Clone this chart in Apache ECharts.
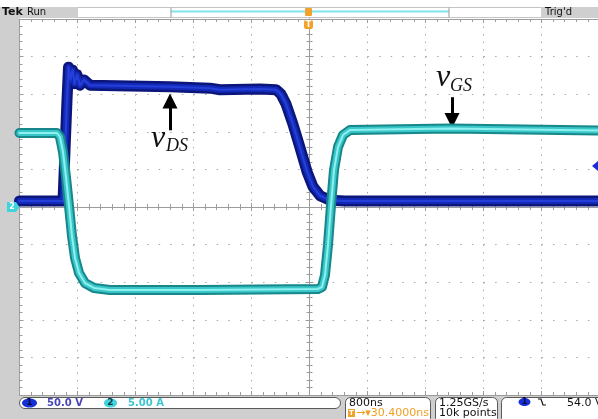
<!DOCTYPE html>
<html>
<head>
<meta charset="utf-8">
<script src="https://cdn.jsdelivr.net/npm/echarts@6/dist/echarts.min.js"></script>
<style>
  html, body { margin: 0; padding: 0; background: #ffffff; }
  #chart { width: 598px; height: 419px; }
</style>
</head>
<body>
<div id="chart"></div>
<script>
// Horizontal: 800 ns/div, 10 divisions, trigger at centre
const timeMin = -4000, timeMax = 4000, timeStep = 800;
// Channel 1 (v_DS): 50 V/div, ground at centre
const ch1Min = -250, ch1Max = 250, ch1Step = 50;
// Channel 2 (v_GS probe channel): 5 A/div, ground at centre
const ch2Min = -25, ch2Max = 25, ch2Step = 5;

// Channel 1 trace: drain-source voltage
const vdsTime  = [-4000, -3400, -3372, -3345, -3324, -3297, -3269, -3241, -3207, -3166, -3110, -3028,
                  -2476, -1924, -1372, -1234, -683, -462, -393, -324, -228, -131, -34, 48, 145, 283, 490, 4000];
const vdsVolts = [8, 8, 76, 142, 186, 169, 182, 164, 176, 162, 169, 162,
                  161, 160, 158, 156, 157, 156, 150, 137, 110, 79, 47, 27, 15, 9, 8, 8];

// Channel 2 trace: gate-source drive
const vgsTime = [-4000, -3524, -3483, -3441, -3400, -3359, -3317, -3276, -3234, -3179, -3097, -2972, -2752,
                 -1510, 117, 172, 214, 255, 297, 338, 393, 462, 559, 1938, 4000];
const vgsAmps = [9.84, 9.84, 9.84, 9.31, 7.31, 3.99, 0.13, -3.86, -6.78, -8.78, -10.11, -10.77, -11.04,
                 -11.04, -10.9, -10.64, -9.04, -5.05, 0.27, 4.92, 7.98, 9.57, 10.24, 10.44, 10.17];

// Annotation arrows: time, shaft start, shaft end, tip level
const vdsArrow = { t: -1924, from: 102, shaftEnd: 140, tip: 151 };
const vgsArrow = { t: 1966, from: 14.6, shaftEnd: 11.7, tip: 10.5 };

// Status readouts
const ch1Scale = '50.0 V';
const ch2Scale = '5.00 A';
const timeScale = '800ns';
const trigDelay = '\u2192\u25BE30.4000ns';
const sampleRate = '1.25GS/s';
const recordLen = '10k points';
const trigLevel = '54.0 V';

const gridColor = '#9c9c9c';
const uiFont = 'DejaVu Sans';

const chart = echarts.init(document.getElementById('chart'), null, { renderer: 'canvas' });

function timeAxis(position, onZero, inside, split) {
  return {
    type: 'value', min: timeMin, max: timeMax, interval: timeStep,
    position: position,
    axisLabel: { show: false },
    axisLine: { show: true, onZero: onZero, onZeroAxisIndex: 0, lineStyle: { color: gridColor, width: 1 } },
    axisTick: { show: true, inside: inside, length: 4, lineStyle: { color: gridColor } },
    minorTick: { show: true, splitNumber: 5, length: 3, lineStyle: { color: gridColor } },
    splitLine: { show: split, lineStyle: { color: '#a8a8a8', width: 1, type: [1.5, 6.02] } },
    minorSplitLine: { show: false }
  };
}
function levelAxis(position, onZero, inside, split) {
  return {
    type: 'value', min: ch1Min, max: ch1Max, interval: ch1Step,
    position: position,
    axisLabel: { show: false },
    axisLine: { show: true, onZero: onZero, onZeroAxisIndex: 0, lineStyle: { color: gridColor, width: 1 } },
    axisTick: { show: true, inside: inside, length: 4, lineStyle: { color: gridColor } },
    minorTick: { show: true, splitNumber: 5, length: 3, lineStyle: { color: gridColor } },
    splitLine: { show: split, lineStyle: { color: '#a8a8a8', width: 1, type: [1.5, 10.1] } },
    minorSplitLine: { show: false }
  };
}

function traceLayer(t, v, yIdx, color, width, z) {
  return {
    type: 'line', xAxisIndex: 0, yAxisIndex: yIdx,
    data: t.map((x, i) => [x, v[i]]),
    showSymbol: false, symbol: 'none', silent: true, animation: false, z: z,
    lineStyle: { color: color, width: width, cap: 'round', join: 'round' }
  };
}

// Black pointer arrow: shaft drawn as a mark line, head as a triangle mark point
function pointer(yIdx, arrow, pointsUp) {
  return {
    type: 'line', xAxisIndex: 0, yAxisIndex: yIdx, data: [], z: 20, silent: true, animation: false,
    markLine: {
      silent: true, animation: false, symbol: ['none', 'none'],
      label: { show: false },
      lineStyle: { color: '#000000', width: 3, type: 'solid' },
      data: [[{ coord: [arrow.t, arrow.from] }, { coord: [arrow.t, arrow.shaftEnd] }]]
    },
    markPoint: {
      silent: true, animation: false,
      symbol: 'triangle', symbolSize: [15, 15],
      symbolRotate: pointsUp ? 0 : 180,
      symbolOffset: [0, pointsUp ? 7.5 : -7.5],
      label: { show: false },
      itemStyle: { color: '#000000' },
      data: [{ coord: [arrow.t, arrow.tip] }]
    }
  };
}

const series = [
  traceLayer(vdsTime, vdsVolts, 0, '#0b167a', 11, 3),
  traceLayer(vdsTime, vdsVolts, 0, '#1529b8', 6, 4),
  traceLayer(vdsTime, vdsVolts, 0, '#2440d8', 2, 5),
  traceLayer(vgsTime, vgsAmps, 1, '#17878a', 10, 6),
  traceLayer(vgsTime, vgsAmps, 1, '#39c6c8', 6, 7),
  traceLayer(vgsTime, vgsAmps, 1, '#8ff0f0', 2, 8),
  pointer(0, vdsArrow, true),
  pointer(1, vgsArrow, false)
];

const serif = 'Liberation Serif';
const graphic = [
  // frame chrome
  { type: 'rect', shape: { x: 0, y: 7, width: 19, height: 412 }, style: { fill: '#cfcfcf' }, z: 1 },
  { type: 'rect', shape: { x: 0, y: 396, width: 598, height: 23 }, style: { fill: '#cfcfcf' }, z: 1 },
  { type: 'rect', shape: { x: 0.5, y: 7.5, width: 597, height: 10 }, style: { fill: '#ffffff', stroke: '#c4c4c4', lineWidth: 1 }, z: 1 },
  { type: 'rect', shape: { x: 0, y: 7, width: 78, height: 11 }, style: { fill: '#cfcfcf' }, z: 2 },
  { type: 'text', x: 2, y: 12.5, style: { text: 'Tek', font: 'bold 11px ' + uiFont, fill: '#111', verticalAlign: 'middle' }, z: 3 },
  { type: 'text', x: 27, y: 12.5, style: { text: 'Run', font: '10px ' + uiFont, fill: '#111', verticalAlign: 'middle' }, z: 3 },
  { type: 'rect', shape: { x: 541, y: 7, width: 57, height: 11 }, style: { fill: '#cfcfcf' }, z: 2 },
  { type: 'text', x: 545, y: 12.5, style: { text: "Trig'd", font: '10px ' + uiFont, fill: '#111', verticalAlign: 'middle' }, z: 3 },
  // record view bar
  { type: 'rect', shape: { x: 171, y: 10.5, width: 278, height: 2 }, style: { fill: '#7fe4ee' }, z: 3 },
  { type: 'rect', shape: { x: 170.5, y: 7.5, width: 1, height: 10 }, style: { fill: '#9a9a9a' }, z: 3 },
  { type: 'rect', shape: { x: 448.5, y: 7.5, width: 1, height: 10 }, style: { fill: '#9a9a9a' }, z: 3 },
  // trigger position markers
  { type: 'rect', shape: { x: 305, y: 8, width: 7, height: 8, r: 1 }, style: { fill: '#f2a12a' }, z: 4 },
  { type: 'rect', shape: { x: 304, y: 20, width: 9, height: 9, r: 2 }, style: { fill: '#f2a12a' }, z: 30 },
  { type: 'text', x: 308.5, y: 24.5, style: { text: 'T', font: 'bold 8px ' + uiFont, fill: '#ffffff', align: 'center', verticalAlign: 'middle' }, z: 31 },
  // channel 2 ground marker
  { type: 'polygon', shape: { points: [[7, 202], [16, 202], [19.5, 207], [16, 212], [7, 212]] }, style: { fill: '#3fd3dc' }, z: 30 },
  { type: 'text', x: 12, y: 207, style: { text: '2', font: 'bold 8px ' + uiFont, fill: '#ffffff', align: 'center', verticalAlign: 'middle' }, z: 31 },
  // trigger level marker
  { type: 'polygon', shape: { points: [[592, 166], [598, 161], [598, 171]] }, style: { fill: '#1a2ad8' }, z: 30 },
  // status boxes
  { type: 'rect', shape: { x: 19.5, y: 397.5, width: 321, height: 11, r: 5.5 }, style: { fill: '#ffffff', stroke: '#5a5a5a', lineWidth: 1 }, z: 2 },
  { type: 'ellipse', shape: { cx: 29.5, cy: 403, rx: 7.5, ry: 4.5 }, style: { fill: '#1630d8' }, z: 3 },
  { type: 'text', x: 29.5, y: 403, style: { text: '1', font: 'bold 9px ' + uiFont, fill: '#0a0a40', align: 'center', verticalAlign: 'middle' }, z: 4 },
  { type: 'text', x: 47, y: 403, style: { text: ch1Scale, font: 'bold 10px ' + uiFont, fill: '#4a48b8', verticalAlign: 'middle' }, z: 4 },
  { type: 'ellipse', shape: { cx: 110.5, cy: 403, rx: 6.5, ry: 4.5 }, style: { fill: '#3fd3dc' }, z: 3 },
  { type: 'text', x: 110.5, y: 403, style: { text: '2', font: 'bold 9px ' + uiFont, fill: '#0a3a40', align: 'center', verticalAlign: 'middle' }, z: 4 },
  { type: 'text', x: 128, y: 403, style: { text: ch2Scale, font: 'bold 10px ' + uiFont, fill: '#3cc6d4', verticalAlign: 'middle' }, z: 4 },
  { type: 'rect', shape: { x: 345.5, y: 397.5, width: 85, height: 26, r: 5 }, style: { fill: '#ffffff', stroke: '#5a5a5a', lineWidth: 1 }, z: 2 },
  { type: 'text', x: 349, y: 403, style: { text: timeScale, font: '11px ' + uiFont, fill: '#111', verticalAlign: 'middle' }, z: 4 },
  { type: 'rect', shape: { x: 348, y: 409, width: 7, height: 8 }, style: { fill: '#f2a12a' }, z: 3 },
  { type: 'text', x: 351.5, y: 413, style: { text: 'T', font: 'bold 7px ' + uiFont, fill: '#ffffff', align: 'center', verticalAlign: 'middle' }, z: 4 },
  { type: 'text', x: 356, y: 413.5, style: { text: trigDelay, font: '11px ' + uiFont, fill: '#f0a020', verticalAlign: 'middle' }, z: 4 },
  { type: 'rect', shape: { x: 435.5, y: 397.5, width: 62, height: 26, r: 5 }, style: { fill: '#ffffff', stroke: '#5a5a5a', lineWidth: 1 }, z: 2 },
  { type: 'text', x: 439, y: 403, style: { text: sampleRate, font: '11px ' + uiFont, fill: '#111', verticalAlign: 'middle' }, z: 4 },
  { type: 'text', x: 439, y: 413.5, style: { text: recordLen, font: '11px ' + uiFont, fill: '#111', verticalAlign: 'middle' }, z: 4 },
  { type: 'rect', shape: { x: 501.5, y: 397.5, width: 110, height: 26, r: 5 }, style: { fill: '#ffffff', stroke: '#5a5a5a', lineWidth: 1 }, z: 2 },
  { type: 'ellipse', shape: { cx: 524.5, cy: 402, rx: 6, ry: 4 }, style: { fill: '#1630d8' }, z: 3 },
  { type: 'text', x: 524.5, y: 402, style: { text: '1', font: 'bold 8px ' + uiFont, fill: '#0a0a40', align: 'center', verticalAlign: 'middle' }, z: 4 },
  { type: 'polyline', shape: { points: [[538, 399], [541, 399], [543, 405], [546, 405]] }, style: { stroke: '#111', lineWidth: 1.2, fill: null }, z: 4 },
  { type: 'text', x: 567, y: 403, style: { text: trigLevel, font: '11px ' + uiFont, fill: '#111', verticalAlign: 'middle' }, z: 4 },
  // trace annotations
  { type: 'text', x: 151, y: 139, style: { text: 'v', font: 'italic 32px ' + serif, fill: '#111', verticalAlign: 'middle' }, z: 25 },
  { type: 'text', x: 166, y: 146.5, style: { text: 'DS', font: 'italic 18px ' + serif, fill: '#111', verticalAlign: 'middle' }, z: 25 },
  { type: 'text', x: 436, y: 78, style: { text: 'v', font: 'italic 32px ' + serif, fill: '#111', verticalAlign: 'middle' }, z: 25 },
  { type: 'text', x: 450, y: 86, style: { text: 'GS', font: 'italic 18px ' + serif, fill: '#111', verticalAlign: 'middle' }, z: 25 }
];

chart.setOption({
  animation: false,
  backgroundColor: '#ffffff',
  grid: { left: 19.5, top: 19, width: 580, height: 376, show: false, outerBoundsMode: 'none', containLabel: false },
  xAxis: [
    timeAxis('bottom', false, true, true),
    timeAxis('top', false, true, false),
    timeAxis('bottom', true, true, false),
    timeAxis('bottom', true, false, false)
  ],
  yAxis: [
    levelAxis('left', false, true, true),
    { type: 'value', min: ch2Min, max: ch2Max, interval: ch2Step, show: false, position: 'right' },
    levelAxis('left', true, true, false),
    levelAxis('left', true, false, false)
  ],
  series: series,
  graphic: graphic
});
</script>
</body>
</html>
